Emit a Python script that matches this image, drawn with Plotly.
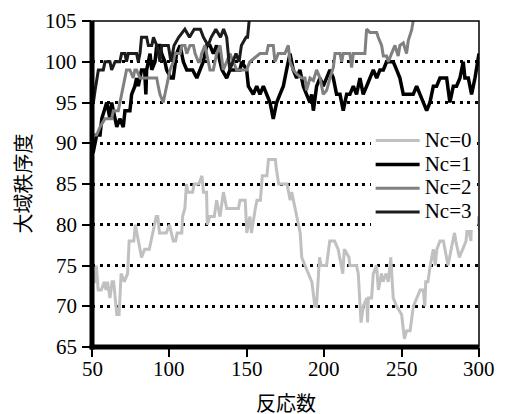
import plotly.graph_objects as go

# ---- data ----
nc0_x = [50, 51.7, 52.8, 54, 56, 58, 59, 60, 61.6, 63, 64, 66, 67.5, 68.8, 70.9, 73, 74, 77, 78, 79, 80, 82, 84, 87,
         91.5, 92.5, 93.6, 98, 100, 102.5, 104, 105, 108, 108.5, 110, 111, 112, 115, 116, 119, 121, 122, 124, 124.5,
         126, 129, 130.5, 132.7, 134.9, 137, 144.6, 145.6, 149, 150, 152, 153, 155.5, 156.6, 158.8, 160, 163, 164,
         168.5, 169, 170.6, 176, 178, 179, 184.5, 185.5, 187.6, 192, 194, 195, 197, 198, 201.5, 203.6, 206.7, 209,
         212, 213, 216, 216.6, 220.9, 222, 223.8, 225.3, 227.5, 228, 228.5, 230.6, 231.7, 233.8, 235, 237, 238, 240,
         241.4, 243, 244.6, 246.8, 250, 251.8, 253.3, 255.5, 257.6, 259.8, 262, 264, 265, 265.6, 267, 268.5, 270.5,
         271.7, 272.8, 274.8, 277, 278, 280, 282, 284.2, 285, 287.3, 289.5, 291.6, 292.6, 294.8, 295, 298, 300]
nc0_y = [73, 73, 75, 72, 72, 73, 72, 73, 71, 73, 73, 69, 69, 74, 73, 74, 78, 78, 80, 79, 78, 76, 77, 77,
         81, 81, 79, 79, 80, 78, 78, 79, 79, 81, 82, 85, 84, 84, 85, 85, 86, 84, 84, 80,
         81, 81, 83, 81, 84, 82, 82, 83, 83, 79, 81, 79, 82, 83, 83, 86, 86, 88,
         88, 87, 85, 85, 83, 84, 79, 76, 75, 73, 70, 70, 76, 75, 75, 78, 78, 77,
         74, 77, 76, 75, 75, 74, 68, 70, 71, 68, 71, 71, 74, 75, 72, 74, 73, 74,
         73, 76, 71, 70, 69, 66, 67, 67, 70, 71, 72, 72, 70, 73, 73, 75, 77,
         75, 77, 78, 78, 77, 75, 77, 79, 78, 76, 77, 78, 80, 78, 80, 80, 81]

nc1_x = [50, 50.9, 53, 55.2, 56.3, 59.5, 60.6, 61.6, 62.7, 64.9, 66, 68, 70.2, 71.3, 74.5, 75.6, 77.7, 78.8, 79.9,
         82, 84, 84.8, 85.3, 87.5, 88.6, 90.7, 91.8, 93.9, 95, 97.1, 98.2, 101, 102.5, 104.6, 106.9, 109, 111.2,
         115, 117.7, 119.8, 121.9, 124.1, 126.2, 128.4, 130.5, 132.7, 134, 137, 139.1, 141, 145.6, 146.7, 149.9,
         151, 154.2, 156.4, 158.5, 160.7, 162.8, 165, 167.1, 169.3, 171.4, 173.6, 175.7, 177.9, 180, 182.2, 184.3,
         186.5, 188.6, 190.8, 191.9, 193, 195.1, 197.3, 199.4, 201.6, 203.7, 205.9, 208, 210.2, 212.3, 214.5, 216.6,
         218.8, 220.9, 223.1, 225.2, 227.4, 229.5, 231.7, 233.9, 236, 238.2, 240.3, 242.5, 244.6, 246.8, 248.9,
         251.1, 253.2, 257.5, 259.7, 261.8, 264, 266.2, 268.3, 270.5, 272.6, 274.8, 275.8, 278, 279.1, 281.2,
         283.4, 285.5, 287.7, 289.8, 290.9, 293.1, 295.2, 297.4, 299.5, 300]
nc1_y = [89, 89, 91, 91, 93, 95, 94, 93, 95, 93, 92, 93, 92, 94, 94, 96, 97, 98, 97,
         99, 99, 96, 99, 101, 99, 100, 102, 102, 101, 100, 99, 98, 98, 101, 102, 100, 99,
         99, 98, 99, 100, 102, 102, 101, 102, 100, 99, 98, 99, 99, 99, 100, 99,
         97, 96, 97, 96, 97, 96, 95, 93, 95, 96, 97, 99, 101, 99, 98, 99,
         97, 96, 95, 96, 94, 97, 98, 97, 98, 99, 98, 96, 96, 94, 96, 96,
         97, 96, 98, 96, 97, 98, 99, 98, 99, 99, 100, 100, 100, 99, 98,
         96, 96, 96, 97, 96, 95, 94, 95, 97, 97, 98, 98, 98, 98, 95,
         97, 97, 98, 100, 98, 98, 96, 98, 100, 101]

nc2_x = [50, 50.9, 53, 55.2, 58.4, 62.7, 63.8, 67, 69.1, 71.3, 72.3, 74.5, 76.6, 77.7, 78.8, 81, 91.8, 92.8, 93.9,
         96, 98.2, 100.4, 102.5, 103.5, 106.9, 108, 110, 111.2, 113.3, 115.5, 116.6, 118.7, 119.8, 120.8, 123,
         125.1, 126.2, 128.4, 130.5, 132.7, 134.8, 137, 139.1, 141.3, 143.4, 149.9, 152, 158.5, 162.8, 163.9,
         167.1, 168.2, 170.3, 174.6, 176.8, 177.9, 180, 182.2, 185.4, 187.6, 188.6, 190.8, 193, 195.1, 197.3,
         199.4, 201.6, 203.7, 205.9, 207, 210.2, 211.3, 212.3, 216.6, 217.7, 218.8, 223.1, 226.3, 227.4, 229.5,
         233.9, 234.9, 237.1, 238.2, 240.3, 241.4, 243.5, 245.7, 247.8, 248.9, 251.1, 253.2, 254.3, 256.5, 257.5]
nc2_y = [91, 91, 91, 92, 93, 93, 94, 94, 96, 98, 99, 99, 98, 99, 99, 98, 98, 97, 96,
         95, 97, 99, 100, 101, 101, 102, 102, 101, 102, 102, 101, 100, 100, 101, 102,
         100, 99, 99, 101, 102, 99, 100, 101, 100, 99, 99, 100, 101, 101, 102,
         102, 100, 101, 101, 102, 100, 99, 98.5, 98, 98, 96.5, 98, 97.7, 99, 98,
         96, 96.5, 98, 99.3, 101, 101, 100, 101, 101, 99.3, 101, 101, 101, 104, 103.6,
         103.6, 103, 102, 100.7, 100.7, 100, 101, 102, 100.7, 102, 102.3, 101, 102.6, 103.9, 105]

nc3_x = [50, 50.9, 52, 54.1, 57.3, 58.4, 61.6, 62.7, 64.9, 68, 69.1, 71.3, 72.3, 73.4, 78.8, 79.9, 81, 82, 85.3,
         86.4, 88.6, 89.7, 91.8, 93.9, 95, 99.3, 101, 103, 106, 110, 113, 116, 120, 122, 125, 127, 130, 133, 135,
         137, 139, 141, 143, 145, 146.5, 149.5, 150.5, 151.5]
nc3_y = [95, 95, 96.5, 99, 99, 100, 100, 99, 100, 100, 101, 101, 100, 101, 101, 100, 101, 103, 103,
         102, 102, 103, 102, 100, 102, 102, 100, 102, 103, 104, 103, 104, 104, 103, 102, 103, 104, 103, 104,
         103, 99, 100, 101, 100, 102, 103, 103, 105]

series_names = ["Nc=0", "Nc=1", "Nc=2", "Nc=3"]
y_ticks = [65, 70, 75, 80, 85, 90, 95, 100, 105]
x_ticks = [50, 100, 150, 200, 250, 300]
x_title = "反応数"
y_title = "大域秩序度"

colors = ["#c0c0c0", "#000000", "#808080", "#1c1c1c"]
widths = [3, 3.5, 3, 3]

SERIF = "Liberation Serif"
CJK = "Noto Sans CJK JP"


def serif_span(s, size):
    return f"<span style='font-family:{SERIF};font-size:{size}px'>{s}</span>"


fig = go.Figure()
for name, xs, ys, c, w in zip(series_names, [nc0_x, nc1_x, nc2_x, nc3_x], [nc0_y, nc1_y, nc2_y, nc3_y], colors, widths):
    fig.add_trace(go.Scatter(x=xs, y=ys, mode="lines", name=serif_span(name, 21), line=dict(color=c, width=w)))

tick_font = dict(family=SERIF, size=21, color="black")
annotations = []
# x tick labels, placed through the x axis scale
for v in x_ticks:
    annotations.append(dict(x=v, xref="x", y=0, yref="paper", yanchor="middle", yshift=-22,
                            text=serif_span(v, 21), showarrow=False, font=tick_font))
# y tick labels, placed through the y axis scale
for v in y_ticks:
    annotations.append(dict(x=0, xref="paper", xanchor="right", xshift=-13, y=v, yref="y",
                            yanchor="middle", text=serif_span(v, 21), showarrow=False, font=tick_font))
# axis titles
annotations.append(dict(x=0.5, xref="paper", y=0, yref="paper", yanchor="middle", yshift=-55,
                        text=x_title, showarrow=False, font=dict(family=CJK, size=20, color="black")))
annotations.append(dict(x=0, xref="paper", xanchor="center", xshift=-70.5, y=0.5, yref="paper",
                        yanchor="middle", textangle=-90, text=y_title, showarrow=False,
                        font=dict(family=CJK, size=20, color="black")))

fig.update_layout(
    width=506, height=414,
    margin=dict(l=84, r=35, t=13, b=75),
    paper_bgcolor="white", plot_bgcolor="white",
    font=dict(family=SERIF, color="black", size=20),
    legend=dict(x=0.72, y=0.685, xanchor="left", yanchor="top", bgcolor="white",
                font=dict(family=SERIF, size=16, color="black"), itemwidth=44,
                tracegroupgap=0, borderwidth=0),
    annotations=annotations,
    xaxis=dict(range=[50, 300], tickvals=x_ticks, showticklabels=False,
               ticks="outside", ticklen=9, tickwidth=2,
               tickcolor="black", showgrid=False, zeroline=False, showline=False, automargin=False),
    yaxis=dict(range=[65, 105], tickvals=y_ticks, showticklabels=False,
               ticks="outside", ticklen=9, tickwidth=2,
               tickcolor="black", showgrid=True, gridcolor="black", gridwidth=3, griddash="3px,4.5px",
               zeroline=False, showline=False, automargin=False),
    shapes=[
        dict(type="rect", xref="paper", yref="paper", x0=0, x1=1, y0=0, y1=1,
             line=dict(color="black", width=1.5), layer="above"),
        dict(type="line", xref="paper", yref="paper", x0=0, x1=0, y0=-0.008, y1=1,
             line=dict(color="black", width=5), layer="above"),
        dict(type="line", xref="paper", yref="paper", x0=-0.006, x1=1, y0=0, y1=0,
             line=dict(color="black", width=5), layer="above"),
    ],
)

fig.write_html("out.html")
